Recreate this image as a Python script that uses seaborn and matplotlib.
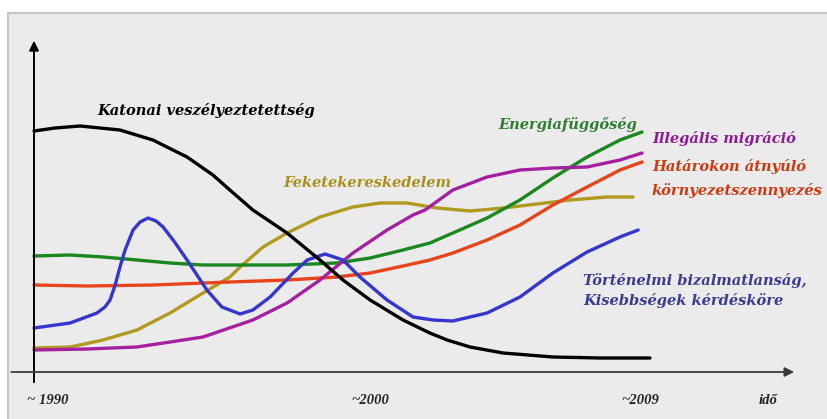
import numpy as np
import pandas as pd
import matplotlib.pyplot as plt
import seaborn as sns
from matplotlib.patches import Rectangle

sns.set_theme(style="white")
plt.rcParams['font.family'] = ['Liberation Serif', 'DejaVu Serif']

# values: x = year, y = relative intensity
katonai_x = [1990.0, 1990.66, 1991.44, 1992.69, 1993.72, 1994.79, 1995.60, 1996.13, 1996.85,
             1997.92, 1998.95, 1999.67, 2000.52, 2001.55, 2002.39, 2002.93, 2003.65, 2004.68,
             2006.24, 2007.72, 2009.28]
katonai_y = [241, 244, 246, 242, 232, 215, 197, 182, 162, 139, 112, 92, 72, 52, 39, 32, 25, 19,
             15, 14, 14]

tortenelmi_x = [1990.0, 1991.13, 1991.97, 1992.22, 1992.38, 1992.54, 1992.69, 1992.85, 1993.10,
                1993.32, 1993.57, 1993.82, 1994.04, 1994.40, 1994.79, 1995.41, 1995.88, 1996.45,
                1996.85, 1997.39, 1998.11, 1998.55, 1999.11, 1999.67, 2000.20, 2001.05, 2001.86,
                2002.49, 2003.11, 2004.18, 2005.21, 2006.24, 2007.31, 2008.34, 2008.91]
tortenelmi_y = [44, 49, 59, 65, 72, 87, 105, 122, 142, 150, 154, 151, 145, 130, 112, 82, 65, 58,
                62, 75, 99, 112, 118, 112, 95, 72, 55, 52, 51, 59, 75, 99, 120, 135, 142]

energia_x = [1990.0, 1991.13, 1992.16, 1993.22, 1994.26, 1995.29, 1997.92, 1999.48, 2000.52,
             2001.55, 2002.39, 2003.11, 2004.18, 2005.21, 2006.24, 2007.31, 2008.34, 2009.03]
energia_y = [116, 117, 115, 112, 109, 107, 107, 109, 114, 122, 129, 139, 154, 172, 194, 215,
             232, 240]

kornyezet_x = [1990.0, 1991.66, 1993.72, 1996.13, 1997.92, 1999.48, 2000.52, 2001.55, 2002.39,
               2003.11, 2004.18, 2005.21, 2006.24, 2007.31, 2008.34, 2009.03]
kornyezet_y = [87, 86, 87, 90, 92, 95, 99, 106, 112, 119, 132, 147, 167, 185, 202, 210]

fekete_x = [1990.0, 1991.13, 1992.16, 1993.22, 1994.26, 1995.29, 1996.13, 1996.45, 1997.17,
            1997.92, 1998.95, 1999.98, 2000.83, 2001.67, 2002.61, 2003.65, 2004.68, 2005.74,
            2006.78, 2007.93, 2008.75]
fekete_y = [24, 25, 32, 42, 59, 79, 95, 105, 125, 139, 155, 165, 169, 169, 164, 161, 164, 168,
            172, 175, 175]

migracio_x = [1990.0, 1991.66, 1993.22, 1994.26, 1995.29, 1996.85, 1997.92, 1998.95, 1999.98,
              2001.05, 2001.86, 2002.24, 2003.11, 2004.18, 2005.21, 2006.24, 2007.31, 2008.34,
              2009.03]
migracio_y = [22, 23, 25, 30, 35, 52, 69, 92, 119, 142, 157, 162, 182, 195, 202, 204, 205, 212,
              219]

series = [
    (fekete_x, fekete_y, '#b09a20'),
    (kornyezet_x, kornyezet_y, '#e8431a'),
    (energia_x, energia_y, '#1a871f'),
    (migracio_x, migracio_y, '#a5209f'),
    (tortenelmi_x, tortenelmi_y, '#3535d0'),
    (katonai_x, katonai_y, '#000000'),
]

fig = plt.figure(figsize=(8.27, 4.19), dpi=100, facecolor='white')
fig.patches.append(Rectangle((8 / 827, -0.01), 1.0, (419 - 13) / 419 + 0.01,
                             transform=fig.transFigure, facecolor='#ebebeb',
                             edgecolor='#c4c4c4', linewidth=1.5, zorder=-10))
ax = fig.add_axes([0, 0, 1, 1])
ax.set_facecolor('none')
ax.set_axis_off()

for xs, ys, col in series:
    d = pd.DataFrame({'x': xs, 'y': ys})
    sns.lineplot(data=d, x='x', y='y', color=col, linewidth=2.4, sort=False,
                 estimator=None, ax=ax, solid_joinstyle='round', solid_capstyle='round')

ax.set_xlim(1990 - 34 / 31.95, 1990 + 793 / 31.95)
ax.set_ylim(-47, 372)

# axes with arrows
ax.annotate('', xy=(1990, 334), xytext=(1990, -13),
            arrowprops=dict(arrowstyle='-|>', color='black', lw=1.4, mutation_scale=14))
ax.annotate('', xy=(2013.88, 0), xytext=(1989.2, 0),
            arrowprops=dict(arrowstyle='-|>', color='#3a3a3a', lw=1.3, mutation_scale=14))

# wide serif so the labels take the same room as the letter-spaced originals
lab = dict(family=['DejaVu Serif'], fontweight='bold', fontstyle='italic', fontsize=10.5,
           va='center', ha='left')
ax.text(1991.97, 262, 'Katonai veszélyeztetettség', color='black', **lab)
ax.text(1997.79, 189, 'Feketekereskedelem', color='#a8901c', **lab)
ax.text(2004.52, 247, 'Energiafüggőség', color='#2e7d32', **lab)
ax.text(2009.34, 233, 'Illegális migráció', color='#8e1a96', **lab)
ax.text(2009.34, 205, 'Határokon átnyúló', color='#cc3a12', **lab)
ax.text(2009.34, 181, 'környezetszennyezés', color='#cc3a12', **lab)
ax.text(2007.18, 92, 'Történelmi bizalmatlanság,', color='#3b3b8f', **lab)
ax.text(2007.18, 72, 'Kisebbségek kérdésköre', color='#3b3b8f', **lab)

tick = dict(fontweight='bold', fontstyle='italic', fontsize=10.5, va='center', ha='center',
            color='#222222')
ax.text(1990.44, -28, '~ 1990', **tick)
ax.text(2000.52, -28, '~2000', **tick)
ax.text(2008.97, -28, '~2009', **tick)
ax.text(2012.97, -28, 'idő', **tick)

plt.savefig('out.png', dpi=100)
